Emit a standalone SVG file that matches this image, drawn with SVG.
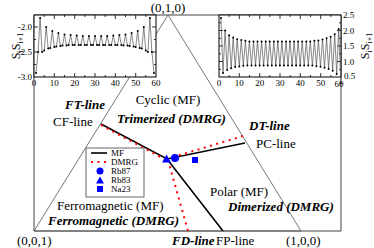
<svg xmlns="http://www.w3.org/2000/svg" width="374" height="248" viewBox="0 0 374 248">
<style>
text{font-family:"Liberation Serif","Times New Roman",serif;fill:#000}
.lbl{font-size:13px}
.bi{font-size:13px;font-weight:bold;font-style:italic}
.tk{font-size:9px}
.lg{font-size:9px}
.frame{fill:none;stroke:#444;stroke-width:1}
.tri{fill:none;stroke:#555;stroke-width:0.8}
.inset{fill:#fff;stroke:#000;stroke-width:1}
.ticks{fill:none;stroke:#000;stroke-width:0.8}
.data{fill:none;stroke:#555;stroke-width:0.7;marker-start:url(#dot);marker-mid:url(#dot);marker-end:url(#dot)}
.mf{fill:none;stroke:#000;stroke-width:1.6}
.dmrg{fill:none;stroke:#f00;stroke-width:2;stroke-dasharray:2 4.5}
.sym{fill:#00f}
</style>
<defs>
<marker id="dot" markerUnits="userSpaceOnUse" markerWidth="3" markerHeight="3" refX="1.5" refY="1.5"><circle cx="1.5" cy="1.5" r="1" fill="#000"/></marker>
</defs>
<g id="frame">
<path class="frame" d="M34,15H341V231H34Z"/>
<polygon class="tri" points="34,231 168,15 301,231"/>
</g>
<g id="inset-left">
<rect class="inset" x="34" y="15" width="122" height="62"/>
<path class="ticks" d="M54.3,77v-4M74.7,77v-4M95,77v-4M115.3,77v-4M135.7,77v-4M44.2,77v-2M64.5,77v-2M84.8,77v-2M105.2,77v-2M125.5,77v-2M145.8,77v-2M54.3,15v4M74.7,15v4M95,15v4M115.3,15v4M135.7,15v4M44.2,15v2M64.5,15v2M84.8,15v2M105.2,15v2M125.5,15v2M145.8,15v2M34,52h4M34,27h4M34,64.5h2M34,39.5h2M156,52h-4M156,27h-4M156,64.5h-2M156,39.5h-2"/>
<polyline class="data" points="36,73 38.1,52 40.1,18 42.1,52 44.2,50.5 46.2,27 48.2,48.5 50.3,48 52.3,31 54.3,47 56.4,46.5 58.4,33 60.4,46 62.5,45.5 64.5,34.5 66.5,45.5 68.6,45 70.6,35 72.6,45 74.7,45 76.7,35.5 78.7,45 80.8,45 82.8,36 84.8,45 86.9,45 88.9,36 90.9,45 93,45 95,36 97,45 99.1,45 101.1,36 103.1,45 105.2,45 107.2,36 109.2,45 111.3,45 113.3,35.5 115.3,45 117.4,45 119.4,35 121.4,45 123.5,45.5 125.5,34.5 127.5,45.5 129.6,46 131.6,33 133.6,46.5 135.7,47 137.7,31 139.7,48 141.8,48.5 143.8,27 145.8,50.5 147.9,52 149.9,18 151.9,52 154,73"/>
<text class="tk" text-anchor="end" x="32" y="30">-2.0</text>
<text class="tk" text-anchor="end" x="32" y="55">-2.5</text>
<text class="tk" text-anchor="end" x="32" y="80">-3.0</text>
<text class="tk" text-anchor="middle" x="34" y="86">0</text>
<text class="tk" text-anchor="middle" x="54.3" y="86">10</text>
<text class="tk" text-anchor="middle" x="74.7" y="86">20</text>
<text class="tk" text-anchor="middle" x="95" y="86">30</text>
<text class="tk" text-anchor="middle" x="115.3" y="86">40</text>
<text class="tk" text-anchor="middle" x="135.7" y="86">50</text>
<text class="tk" text-anchor="middle" x="156" y="86">60</text>
<text transform="translate(20,46) rotate(-90)" text-anchor="middle" font-size="12">S<tspan font-size="8" dy="3">i</tspan><tspan dy="-3">S</tspan><tspan font-size="8" dy="3">i+1</tspan></text>
</g>
<g id="inset-right">
<rect class="inset" x="219" y="15" width="122" height="62"/>
<path class="ticks" d="M239.3,77v-4M259.7,77v-4M280,77v-4M300.3,77v-4M320.7,77v-4M229.2,77v-2M249.5,77v-2M269.8,77v-2M290.2,77v-2M310.5,77v-2M330.8,77v-2M239.3,15v4M259.7,15v4M280,15v4M300.3,15v4M320.7,15v4M229.2,15v2M249.5,15v2M269.8,15v2M290.2,15v2M310.5,15v2M330.8,15v2M219,61.5h4M219,46h4M219,30.5h4M219,69.3h2M219,53.8h2M219,38.3h2M219,22.8h2M341,61.5h-4M341,46h-4M341,30.5h-4M341,69.3h-2M341,53.8h-2M341,38.3h-2M341,22.8h-2"/>
<polyline class="data" points="221,18.1 223,73 225.1,30.5 227.1,69.9 229.1,35.2 231.2,68.3 233.2,37.6 235.2,67.1 237.2,39.2 239.3,66.5 241.3,40.1 243.3,65.8 245.4,40.7 247.4,65.5 249.4,41.4 251.5,65.5 253.5,41.4 255.5,65.5 257.5,41.4 259.6,65.5 261.6,41.4 263.6,65.5 265.7,41.4 267.7,65.5 269.7,41.4 271.8,65.5 273.8,41.4 275.8,65.5 277.8,41.4 279.9,65.5 281.9,41.4 283.9,65.5 286,41.4 288,65.5 290,41.4 292.1,65.5 294.1,41.4 296.1,65.5 298.1,41.4 300.2,65.5 302.2,41.4 304.2,65.5 306.3,41.4 308.3,65.5 310.3,41.4 312.4,65.5 314.4,40.7 316.4,66.2 318.4,40.4 320.5,66.8 322.5,39.5 324.5,67.7 326.6,38.3 328.6,68.9 330.6,36.7 332.7,70.8 334.7,34.2 336.7,73.9 338.7,29 340.8,83.2"/>
<text class="tk" x="343" y="18">2.5</text>
<text class="tk" x="343" y="33.5">2.0</text>
<text class="tk" x="343" y="49">1.5</text>
<text class="tk" x="343" y="64.5">1.0</text>
<text class="tk" x="344" y="79">0.5</text>
<text class="tk" text-anchor="middle" x="219" y="86">0</text>
<text class="tk" text-anchor="middle" x="239.3" y="86">10</text>
<text class="tk" text-anchor="middle" x="259.7" y="86">20</text>
<text class="tk" text-anchor="middle" x="280" y="86">30</text>
<text class="tk" text-anchor="middle" x="300.3" y="86">40</text>
<text class="tk" text-anchor="middle" x="320.7" y="86">50</text>
<text class="tk" text-anchor="middle" x="339" y="87">60</text>
<text transform="translate(369,46) rotate(-90)" text-anchor="middle" font-size="12">S<tspan font-size="8" dy="3">i</tspan><tspan dy="-3">S</tspan><tspan font-size="8" dy="3">i+1</tspan></text>
</g>
<g id="connectors">
<path class="mf" d="M101,124L167,159L245,143M167,159L223,231"/>
<path class="dmrg" d="M101,125L166,160M243,136L167,159M168,160L188,231"/>
</g>
<g id="markers">
<polygon id="rb83" class="sym" points="166.5,154.5 162,162.5 171,162.5"/>
<circle id="rb87" class="sym" cx="175" cy="158" r="4"/>
<rect id="na23" class="sym" x="192" y="157" width="6" height="6"/>
</g>
<g id="labels">
<text class="lbl" text-anchor="middle" x="168" y="11.5">(0,1,0)</text>
<text class="lbl" x="17" y="244.5">(0,0,1)</text>
<text class="lbl" x="286" y="244.5">(1,0,0)</text>
<text class="bi" x="172" y="244.5">FD-line</text>
<text class="lbl" x="216" y="244.5">FP-line</text>
<text class="bi" x="65" y="109">FT-line</text>
<text class="lbl" x="53" y="126">CF-line</text>
<text class="lbl" text-anchor="middle" x="168" y="104">Cyclic (MF)</text>
<text class="bi" x="117" y="122.5">Trimerized (DMRG)</text>
<text class="bi" x="249" y="130">DT-line</text>
<text class="lbl" x="256" y="148">PC-line</text>
<text class="lbl" x="210" y="196">Polar (MF)</text>
<text class="bi" x="228" y="211">Dimerized (DMRG)</text>
<text class="lbl" x="57" y="209.5">Ferromagnetic (MF)</text>
<text class="bi" x="48" y="224.5">Ferromagnetic (DMRG)</text>
</g>
<g id="legend">
<rect x="86" y="148" width="58" height="49" fill="#fff" stroke="#666" stroke-width="1"/>
<path class="mf" d="M91,153H107"/>
<path class="dmrg" d="M91,162H107"/>
<circle class="sym" cx="100" cy="171" r="3.5"/>
<polygon class="sym" points="100,176.5 96,183.5 104,183.5"/>
<rect class="sym" x="97" y="186" width="6" height="6"/>
<text class="lg" x="111" y="156">MF</text>
<text class="lg" x="111" y="165">DMRG</text>
<text class="lg" x="111" y="174">Rb87</text>
<text class="lg" x="111" y="183">Rb83</text>
<text class="lg" x="111" y="192">Na23</text>
</g>
</svg>
